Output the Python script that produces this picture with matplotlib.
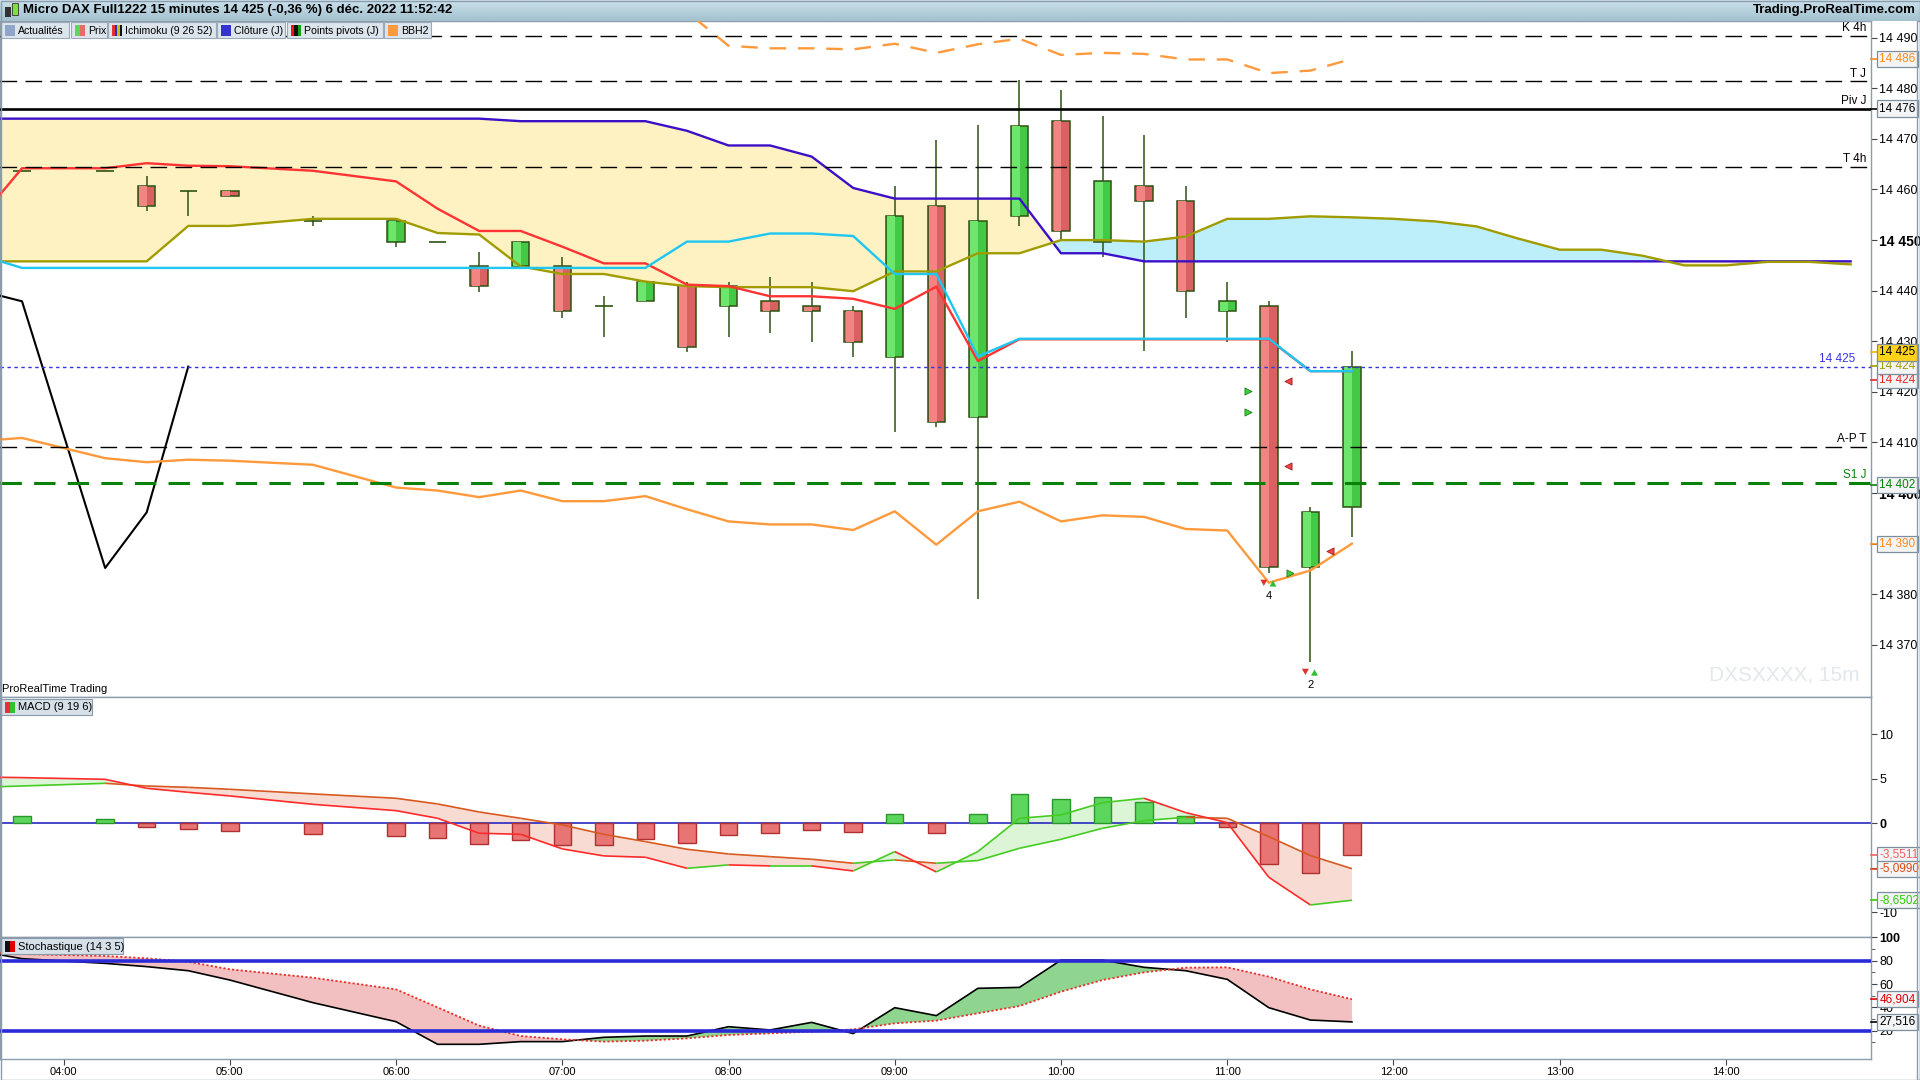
import numpy as np
import matplotlib
matplotlib.use("Agg")
import matplotlib.pyplot as plt
from matplotlib.collections import LineCollection
from matplotlib.patches import Rectangle
from matplotlib.colors import LinearSegmentedColormap

plt.rcParams['font.family'] = ['Liberation Sans', 'DejaVu Sans']

# ---- données (bougies 15 min) ----
bar_times = ["03:30", "03:45", "04:15", "04:30", "04:45", "05:00", "05:30",
             "06:00", "06:15", "06:30", "06:45", "07:00", "07:15", "07:30", "07:45",
             "08:00", "08:15", "08:30", "08:45", "09:00", "09:15", "09:30", "09:45",
             "10:00", "10:15", "10:30", "10:45", "11:00", "11:15", "11:30", "11:45"]
future_times = ["12:00", "12:15", "12:30", "12:45", "13:00", "13:15",
                "13:30", "13:45", "14:00", "14:15", "14:30", "14:45"]
hour_labels = ["04:00", "05:00", "06:00", "07:00", "08:00", "09:00",
               "10:00", "11:00", "12:00", "13:00", "14:00"]

nan = np.nan
open_ = [nan, 14463.6, 14463.6, 14460.7, 14459.7, 14459.7, 14453.8, 14449.7, 14449.7,
         14444.8, 14444.8, 14444.8, 14436.9, 14437.9, 14440.9, 14436.9, 14437.9, 14436.9,
         14436.0, 14426.9, 14456.7, 14415.0, 14454.8, 14473.6, 14449.7, 14460.7, 14457.7,
         14435.9, 14436.9, 14385.3, 14397.3]
high = [nan, 14463.6, 14463.6, 14462.6, 14459.7, 14459.7, 14454.8, 14453.8, 14449.7,
        14447.7, 14449.7, 14446.7, 14438.9, 14441.8, 14441.8, 14441.8, 14442.8, 14441.8,
        14436.9, 14460.7, 14469.7, 14472.7, 14481.6, 14479.6, 14474.6, 14470.7, 14460.7,
        14441.8, 14437.9, 14397.3, 14428.0]
low = [nan, 14463.6, 14463.6, 14455.7, 14454.7, 14458.7, 14452.7, 14448.6, 14449.7,
       14439.7, 14444.8, 14434.7, 14430.9, 14437.9, 14427.9, 14430.9, 14431.7, 14429.8,
       14426.9, 14412.0, 14413.0, 14379.0, 14452.7, 14450.0, 14446.7, 14428.0, 14434.7,
       14429.9, 14384.3, 14366.6, 14391.3]
close = [nan, 14463.6, 14463.6, 14456.7, 14459.7, 14458.7, 14453.8, 14453.8, 14449.7,
         14440.9, 14449.7, 14436.0, 14436.9, 14441.8, 14428.9, 14440.9, 14436.0, 14436.0,
         14429.9, 14454.8, 14414.0, 14453.8, 14472.6, 14451.8, 14461.6, 14457.7, 14439.9,
         14437.9, 14385.3, 14396.3, 14425.0]

# Ichimoku (9 26 52)
span_a = [14474.0, 14474.0, 14474.0, 14474.0, 14474.0, 14474.0, 14474.0, 14474.0, 14474.0,
          14474.0, 14473.5, 14473.5, 14473.5, 14473.5, 14471.6, 14468.7, 14468.7, 14466.5,
          14460.3, 14458.2, 14458.2, 14458.2, 14458.2, 14447.4, 14447.4, 14445.8, 14445.8,
          14445.8, 14445.8, 14445.8, 14445.8,
          14445.8, 14445.8, 14445.8, 14445.8, 14445.8, 14445.8, 14445.8, 14445.8, 14445.8,
          14445.8, 14445.8, 14445.8]
span_b = [14445.8, 14445.8, 14445.8, 14445.8, 14452.8, 14452.8, 14454.2, 14454.2, 14451.4,
          14451.1, 14444.8, 14443.3, 14443.3, 14441.8, 14440.9, 14440.7, 14440.7, 14440.7,
          14439.9, 14443.8, 14443.8, 14447.4, 14447.4, 14450.0, 14450.0, 14449.7, 14450.7,
          14454.2, 14454.2, 14454.7, 14454.5,
          14454.2, 14453.7, 14452.7, 14450.3, 14448.1, 14448.1, 14446.9, 14445.0, 14445.0,
          14445.7, 14445.7, 14445.2]
tenkan = [14454.4, 14464.2, 14464.2, 14465.2, 14464.7, 14464.6, 14463.7, 14461.6, 14456.2,
          14451.8, 14451.8, 14448.7, 14445.4, 14445.4, 14441.2, 14440.9, 14438.9, 14438.9,
          14438.4, 14436.4, 14440.8, 14426.1, 14430.4, 14430.4, 14430.4, 14430.4, 14430.4,
          14430.4, 14430.4, 14424.1, 14424.1]
kijun = [14447.0, 14444.5, 14444.5, 14444.5, 14444.5, 14444.5, 14444.5, 14444.5, 14444.5,
         14444.5, 14444.5, 14444.5, 14444.5, 14444.5, 14449.7, 14449.7, 14451.3, 14451.3,
         14450.8, 14443.3, 14443.3, 14427.0, 14430.5, 14430.5, 14430.5, 14430.5, 14430.5,
         14430.5, 14430.5, 14424.1, 14424.1]
chikou = [14440.0, 14437.9, 14385.2, 14396.2, 14425.0] + [nan] * 26

# BBH2
bb_low = [14410.3, 14410.9, 14406.9, 14406.1, 14406.6, 14406.4, 14405.6, 14401.1, 14400.5,
          14399.2, 14400.5, 14398.4, 14398.4, 14399.4, 14396.8, 14394.4, 14393.8, 14393.8,
          14392.7, 14396.4, 14389.8, 14396.4, 14398.3, 14394.4, 14395.6, 14395.3, 14392.9,
          14392.6, 14382.3, 14384.7, 14390.0]
bb_high = [nan] * 13 + [14503.0, 14495.1, 14488.4, 14487.9, 14487.9, 14487.7, 14488.8,
                        14487.0, 14488.7, 14489.8, 14486.6, 14487.0, 14486.8, 14485.7,
                        14485.7, 14483.0, 14483.5, 14485.8]

# Niveaux pivots
level_vals = [14490.4, 14481.4, 14476.0, 14464.5, 14409.2, 14402.0]
level_names = ["K 4h", "T J", "Piv J", "T 4h", "A-P T", "S1 J"]
last_price = 14425

# signaux
buy_tri_x = [28.5, 28.5, 29.5]
buy_tri_y = [14420.1, 14416.0, 14384.3]
sell_tri_x = [29.47, 29.47, 30.47]
sell_tri_y = [14422.1, 14405.3, 14388.5]
arrow_bar = [29, 30]
arrow_price = [14382.0, 14364.4]
arrow_count = ["4", "2"]

# MACD (9 19 6)
macd = [5.20, 5.13, 4.94, 3.93, 3.48, 3.07, 2.13, 1.42, 0.56, -1.12, -1.24, -2.88, -3.67,
        -3.82, -5.06, -4.68, -4.79, -4.79, -5.36, -3.18, -5.47, -3.18, 0.56, 0.94, 2.32,
        2.81, 1.20, 0.07, -6.07, -9.18, -8.65]
macd_sig = [4.05, 4.19, 4.49, 4.19, 4.04, 3.82, 3.30, 2.81, 2.17, 1.27, 0.56, -0.19, -1.24,
            -2.06, -2.92, -3.45, -3.75, -4.04, -4.49, -4.12, -4.49, -4.19, -2.81, -1.80,
            -0.56, 0.30, 0.67, 0.56, -1.50, -3.63, -5.10]
macd_hist = [nan, 0.82, 0.45, -0.37, -0.60, -0.82, -1.16, -1.39, -1.61, -2.28, -1.84, -2.40,
             -2.40, -1.72, -2.17, -1.27, -1.05, -0.71, -0.94, 1.01, -1.05, 1.01, 3.26, 2.70,
             2.92, 2.43, 0.82, -0.37, -4.61, -5.62, -3.55]

# Stochastique (14 3 5)
stoch_k = [88.0, 81.7, 77.7, 74.9, 71.4, 63.4, 44.0, 27.7, 8.3, 8.3, 10.6, 10.6, 14.3, 15.4,
           15.4, 23.4, 20.6, 27.1, 17.5, 39.7, 32.9, 56.3, 57.1, 80.5, 80.5, 74.3, 71.4,
           64.0, 39.7, 29.1, 27.5]
stoch_d = [88.0, 85.7, 84.0, 82.0, 79.1, 72.6, 65.4, 55.4, 40.0, 24.3, 15.4, 12.6, 10.6,
           11.4, 13.4, 16.3, 17.7, 19.1, 21.1, 26.3, 28.6, 34.9, 41.1, 53.4, 63.4, 70.0,
           74.0, 74.3, 66.3, 55.4, 46.9]

W, H = 1920, 1080
GRID = '#8c9cab'


def to_bar(t):
    h, m = t.split(":")
    return (int(h) * 60 + int(m) - 240) / 15.0


def box(x0, y0, x1, y1):
    return [x0 / W, 1 - y1 / H, (x1 - x0) / W, (y1 - y0) / H]


def fmt(v):
    return f"{int(v):,}".replace(",", " ")


def slope_line(a, x, y, up, down, lw=1.2, z=5):
    pts = np.column_stack([x, y])
    segs = np.stack([pts[:-1], pts[1:]], axis=1)
    cols = [up if y1 >= y0 else down for y0, y1 in zip(y[:-1], y[1:])]
    a.add_collection(LineCollection(segs, colors=cols, linewidths=lw, zorder=z))


def val_box(a, y, txt, col, fc='#f3f4f5', tc=None):
    tr = a.get_yaxis_transform()
    a.plot([1.0, 1.0035], [y, y], transform=tr, color=col, lw=1.2, clip_on=False, zorder=19)
    a.text(1.0045, y, txt, transform=tr, ha='left', va='center', fontsize=8.5,
           color=tc or col, clip_on=False, zorder=20,
           bbox=dict(boxstyle='square,pad=0.18', fc=fc, ec='#7d8e9c', lw=0.9))


def fig_rect(x0, y0, x1, y1, fc, ec='none', lw=0.8, z=30):
    fig.add_artist(Rectangle((x0 / W, 1 - y1 / H), (x1 - x0) / W, (y1 - y0) / H,
                             transform=fig.transFigure, fc=fc, ec=ec, lw=lw, zorder=z))


xb = np.array([to_bar(t) for t in bar_times])
xc = np.array([to_bar(t) for t in bar_times + future_times])
xh = [to_bar(t) for t in hour_labels]
o, hi, lo, c = map(np.array, (open_, high, low, close))

fig = plt.figure(figsize=(19.2, 10.8), dpi=100)
fig.patch.set_facecolor('white')
ax = fig.add_axes(box(0, 21, 1871, 697))
ax_m = fig.add_axes(box(0, 697, 1871, 937), sharex=ax)
ax_s = fig.add_axes(box(0, 937, 1871, 1059), sharex=ax)

for a in (ax, ax_m, ax_s):
    for s in a.spines.values():
        s.set_color(GRID)
        s.set_linewidth(1.0)
    a.yaxis.tick_right()
    a.tick_params(axis='y', direction='out', length=4, color='#444444', labelsize=9, pad=2)
    a.tick_params(axis='x', bottom=False, labelbottom=False)
ax.set_xlim(-1.53, 43.49)

# ---- prix ----
ax.set_ylim(14359.7, 14493.3)
sa, sb = np.array(span_a), np.array(span_b)
ax.fill_between(xc, sa, sb, where=sa >= sb, interpolate=True, color='#fff2c2', lw=0, zorder=1)
ax.fill_between(xc, sa, sb, where=sa < sb, interpolate=True, color='#bdeffb', lw=0, zorder=1)
ax.plot(xc, sa, color='#3c10c8', lw=1.7, zorder=4)
ax.plot(xc, sb, color='#a09c00', lw=1.7, zorder=4)
ax.plot(xb, tenkan, color='#ff3333', lw=1.7, zorder=4)
ax.plot(xb, kijun, color='#1ec6f2', lw=1.7, zorder=4)
ax.plot(xb, chikou, color='black', lw=1.5, zorder=4)
ax.plot(xb, bb_low, color='#ff9a3c', lw=1.7, zorder=4)
ax.plot(xb, bb_high, color='#ff9a3c', lw=1.7, dashes=(7, 5), zorder=4)

wick = '#2e5212'
bw = 0.42
for xi, oo, hh, ll, cc in zip(xb, o, hi, lo, c):
    if np.isnan(oo):
        continue
    ax.vlines(xi, ll, hh, color=wick, lw=1.1, zorder=3)
    if abs(cc - oo) < 0.05:
        ax.hlines(oo, xi - bw / 2, xi + bw / 2, color=wick, lw=1.2, zorder=3)
        continue
    dark, light = ('#45c845', '#6ee66e') if cc > oo else ('#d86262', '#f28484')
    y0, hgt = min(oo, cc), abs(cc - oo)
    ax.add_patch(Rectangle((xi - bw / 2, y0), bw, hgt, fc=dark, ec=wick, lw=1.1, zorder=3))
    ax.add_patch(Rectangle((xi - bw / 2 + 0.03, y0 + 0.05), bw * 0.45, hgt - 0.1,
                           fc=light, ec='none', zorder=3))

for v, name in zip(level_vals, level_names):
    if name == "Piv J":
        ax.axhline(v, color='black', lw=1.9, zorder=4)
        col = 'black'
    elif name == "S1 J":
        ax.axhline(v, color='#0a820a', lw=2.2, dashes=(7, 4), zorder=4)
        col = '#0a820a'
    else:
        ax.axhline(v, color='black', lw=1.0, dashes=(12, 6), zorder=4)
        col = 'black'
    ax.text(0.9975, v + 0.3, name, transform=ax.get_yaxis_transform(), ha='right',
            va='bottom', fontsize=8.5, color=col, zorder=6)
ax.axhline(last_price, color='#3535e0', lw=1.0, dashes=(2.5, 2.5), zorder=4)
ax.text(0.9915, last_price + 0.4, fmt(last_price), transform=ax.get_yaxis_transform(),
        ha='right', va='bottom', fontsize=8.5, color='#3535e0', zorder=6)

ax.scatter(buy_tri_x, buy_tri_y, marker='>', s=26, color='#3ccf3c', edgecolors='#1f7a1f',
           linewidths=0.6, zorder=7)
ax.scatter(sell_tri_x, sell_tri_y, marker='<', s=26, color='#f04848', edgecolors='#a01818',
           linewidths=0.6, zorder=7)
for xa, ya, n in zip(arrow_bar, arrow_price, arrow_count):
    ax.annotate('', xy=(xa - 0.12, ya - 0.9), xytext=(xa - 0.12, ya + 1.2),
                arrowprops=dict(arrowstyle='simple,head_length=0.45,head_width=0.5,tail_width=0.2',
                                color='#e03030', lw=0), zorder=7)
    ax.annotate('', xy=(xa + 0.1, ya + 1.3), xytext=(xa + 0.1, ya - 0.8),
                arrowprops=dict(arrowstyle='simple,head_length=0.45,head_width=0.5,tail_width=0.2',
                                color='#2fc02f', lw=0), zorder=7)
    ax.text(xa, ya - 1.3, n, ha='center', va='top', fontsize=8, zorder=7)

ax.text(0.001, 0.004, "ProRealTime Trading", transform=ax.transAxes, fontsize=8,
        ha='left', va='bottom', zorder=8)
ax.text(0.994, 0.018, "DXSXXXX, 15m", transform=ax.transAxes, fontsize=15,
        color='#e3e8ec', ha='right', va='bottom', zorder=2)

pt = np.arange(14370, 14491, 10)
ax.set_yticks(pt)
ax.set_yticklabels([fmt(v) for v in pt])
for lab, v in zip(ax.get_yticklabels(), pt):
    if v in (14450, 14400):
        lab.set_fontweight('bold')
        lab.set_fontsize(10)

val_box(ax, bb_high[-1], fmt(14486), '#ff8c1a')
val_box(ax, 14476, fmt(14476), 'black')
val_box(ax, 14422.4, fmt(14424), '#e82828')
val_box(ax, 14425.1, fmt(14424), '#a09c00')
val_box(ax, 14427.8, fmt(14425), '#f0b400', fc='#ffd21a', tc='black')
val_box(ax, 14401.6, fmt(14402), '#0a820a')
val_box(ax, bb_low[-1], fmt(14390), '#ff8c1a')

# ---- MACD ----
ax_m.set_ylim(-12.78, 14.19)
m, sg, hs = np.array(macd), np.array(macd_sig), np.array(macd_hist)
ax_m.fill_between(xb, m, sg, where=m >= sg, interpolate=True, color='#dcf5d6', lw=0, zorder=1)
ax_m.fill_between(xb, m, sg, where=m < sg, interpolate=True, color='#f8dcd4', lw=0, zorder=1)
ax_m.axhline(0, color='#2828c0', lw=1.2, zorder=2)
for xi, hv in zip(xb, hs):
    if np.isnan(hv):
        continue
    fc, ec = ('#5cd65c', '#2a962a') if hv >= 0 else ('#e87474', '#b03030')
    ax_m.add_patch(Rectangle((xi - 0.21, min(0, hv)), 0.42, abs(hv), fc=fc, ec=ec, lw=1.0, zorder=3))
slope_line(ax_m, xb, sg, '#44cc22', '#d85a20', lw=1.2)
slope_line(ax_m, xb, m, '#44cc22', '#ff2a2a', lw=1.2)
ax_m.set_yticks([-10, -5, 0, 5, 10])
ax_m.set_yticklabels(["-10", "", "0", "5", "10"])
ax_m.get_yticklabels()[2].set_fontweight('bold')
val_box(ax_m, macd_hist[-1], "-3,5511", '#f06060')
val_box(ax_m, macd_sig[-1], "-5,0990", '#e04a10')
val_box(ax_m, macd[-1], "-8,6502", '#33cc00')

# ---- Stochastique ----
ax_s.set_ylim(-4.3, 100.3)
k, d = np.array(stoch_k), np.array(stoch_d)
ax_s.fill_between(xb, k, d, where=k >= d, interpolate=True, color='#8fd48f', lw=0, zorder=1)
ax_s.fill_between(xb, k, d, where=k < d, interpolate=True, color='#f2c0c0', lw=0, zorder=1)
ax_s.plot(xb, k, color='black', lw=1.2, zorder=3)
ax_s.plot(xb, d, color='#e8302a', lw=1.3, dashes=(1.2, 1.2), zorder=3)
ax_s.axhline(80, color='#2a2ad8', lw=2.6, zorder=4)
ax_s.axhline(20, color='#2a2ad8', lw=2.6, zorder=4)
ax_s.set_yticks([20, 40, 60, 80, 100])
ax_s.set_yticklabels(["20", "40", "60", "80", "100"])
ax_s.set_yticks([10, 30, 50, 70, 90], minor=True)
ax_s.tick_params(axis='y', which='minor', length=3, color='#444444')
ax_s.get_yticklabels()[-1].set_fontweight('bold')
val_box(ax_s, stoch_d[-1], "46,904", '#e00000')
val_box(ax_s, stoch_k[-1], "27,516", 'black')

ax_s.set_xticks(xh)
ax_s.set_xticklabels(hour_labels)
ax_s.tick_params(axis='x', bottom=True, labelbottom=True, length=4, color='#444444',
                 labelsize=8, pad=2)

# ---- étiquettes des panneaux ----
panels = [("MACD (9 19 6)", 699, 92, ['#e83030', '#30c030']),
          ("Stochastique (14 3 5)", 938, 123, ['#111111', '#e00000'])]
for label, ytop, x1, icons in panels:
    fig_rect(1, ytop, x1, ytop + 16, '#d6e0e8', ec='#8a9aa8')
    for j, ic in enumerate(icons):
        fig_rect(5 + j * 5, ytop + 3, 10 + j * 5, ytop + 14, ic, z=31)
    fig.text(18 / W, 1 - (ytop + 8.5) / H, label, fontsize=8, va='center', ha='left', zorder=32)

# barre de titre
ax_t = fig.add_axes(box(0, 0, 1920, 21))
grad = LinearSegmentedColormap.from_list('t', ['#cbe1ec', '#a3c1cf'])
ax_t.imshow(np.linspace(0, 1, 20).reshape(-1, 1), aspect='auto', cmap=grad,
            extent=[0, 1, 0, 1])
ax_t.set_axis_off()
ax_t.text(0.012, 0.5, "Micro DAX Full1222 15 minutes 14 425 (-0,36 %) 6 déc. 2022 11:52:42",
          transform=ax_t.transAxes, fontsize=9.5, fontweight='bold', va='center', ha='left')
ax_t.text(0.998, 0.5, "Trading.ProRealTime.com", transform=ax_t.transAxes, fontsize=9.5,
          fontweight='bold', va='center', ha='right')
ax_t.add_patch(Rectangle((0.0025, 0.2), 0.003, 0.45, transform=ax_t.transAxes, fc='#333333'))
ax_t.add_patch(Rectangle((0.0065, 0.3), 0.003, 0.55, transform=ax_t.transAxes, fc='#7ee03a',
                         ec='#333333', lw=0.6))

# boutons
buttons = [("Actualités", 1, 69, ['#8fa6c8']), ("Prix", 71, 107, ['#5cd65c', '#e86a6a']),
           ("Ichimoku (9 26 52)", 108, 216, ['#e83030', '#2b2bd0', '#c8c000', '#111111']),
           ("Clôture (J)", 217, 285, ['#3333d0']),
           ("Points pivots (J)", 287, 383, ['#ff1010', '#111111', '#10a010']),
           ("BBH2", 384, 431, ['#ff9a3c'])]
for label, x0, x1, cols in buttons:
    fig_rect(x0, 22, x1, 38, '#dce5ec', ec='#9aaab8')
    n = len(cols)
    for j, col in enumerate(cols):
        fig_rect(x0 + 4 + j * 10 / n, 25, x0 + 4 + (j + 1) * 10 / n, 36, col, z=31)
    fig.text((x0 + 17) / W, 1 - 30.5 / H, label, fontsize=7.6, va='center', ha='left',
             zorder=32)

# cadre
fig_rect(0.5, 0.5, 1919.5, 1079.5, 'none', ec=GRID, lw=1.0, z=40)
fig_rect(1917, 21, 1919.5, 1079.5, 'none', ec=GRID, lw=1.0, z=40)

fig.savefig("out.png", dpi=100)
